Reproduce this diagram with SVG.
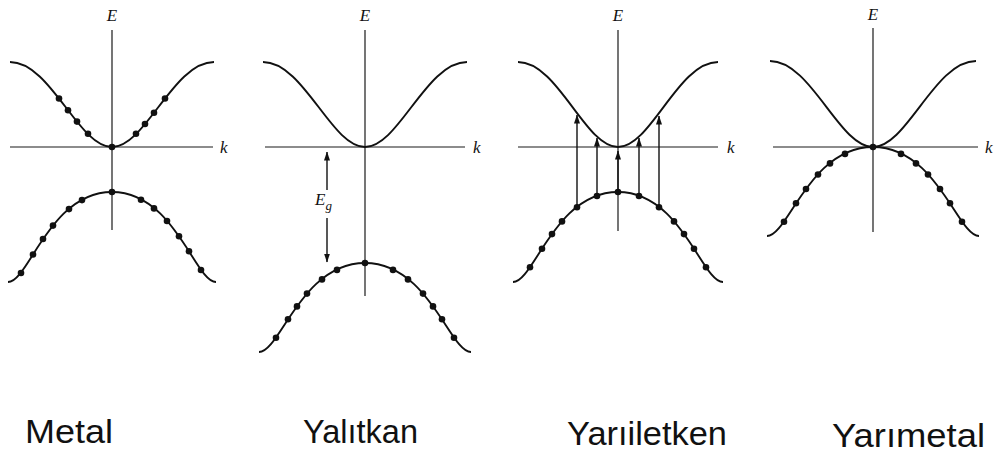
<svg xmlns="http://www.w3.org/2000/svg" width="994" height="461" viewBox="0 0 994 461">
  <defs>
    <style>
      .axis { stroke: #1a1a1a; stroke-width: 1.2; fill: none; }
      .band { stroke: #111; stroke-width: 1.9; fill: none; }
      .dot circle { fill: #111; r: 3.3px; }
      .arr { stroke: #111; stroke-width: 1.4; fill: none; }
      .lbl { font-family: "Liberation Serif", "DejaVu Serif", serif; font-style: italic; font-size: 17px; fill: #111; }
      .hand { font-family: "Liberation Sans", "DejaVu Sans", sans-serif; font-size: 34px; fill: #111; }
    </style>
    <marker id="ah" markerUnits="userSpaceOnUse" markerWidth="9" markerHeight="7" refX="8.5" refY="3.5" orient="auto-start-reverse">
      <path d="M0,0.5 L9,3.5 L0,6.5 z" fill="#111"/>
    </marker>
  </defs>
  <rect width="994" height="461" fill="#fff"/>

  <g id="metal">
    <line class="axis" x1="112" y1="30" x2="112" y2="230"/>
    <line class="axis" x1="10" y1="147" x2="213" y2="147"/>
    <text class="lbl" x="112" y="21" text-anchor="middle">E</text>
    <text class="lbl" x="220" y="153">k</text>
    <path class="band" d="M10,62 C50.8,62 78.3,147 112,147 C145.7,147 173.2,62 214,62"/>
    <path class="band" d="M8,282 C28.8,282 49.6,192 112,192 C174.4,192 195.2,282 216,282"/>
    <g class="dot">
      <circle cx="59" cy="98.5" r="3.3"/><circle cx="68" cy="110.2" r="3.3"/><circle cx="77" cy="121.6" r="3.3"/><circle cx="88" cy="133.8" r="3.3"/>
      <circle cx="112" cy="147" r="3.3"/>
      <circle cx="136" cy="133.8" r="3.3"/><circle cx="145" cy="124" r="3.3"/><circle cx="154" cy="112.7" r="3.3"/><circle cx="165" cy="98.5" r="3.3"/>
      <circle cx="112" cy="192" r="3.3"/>
      <circle cx="82" cy="200.1" r="3.3"/><circle cx="69" cy="209.1" r="3.3"/><circle cx="53" cy="225.6" r="3.3"/><circle cx="43" cy="239" r="3.3"/><circle cx="33" cy="254.5" r="3.3"/><circle cx="21" cy="273" r="3.3"/>
      <circle cx="141" cy="199.7" r="3.3"/><circle cx="154" cy="208.4" r="3.3"/><circle cx="167" cy="221" r="3.3"/><circle cx="179" cy="236.2" r="3.3"/><circle cx="189" cy="251.2" r="3.3"/><circle cx="201" cy="270" r="3.3"/>
    </g>
    <text class="hand" x="25" y="443" textLength="88" lengthAdjust="spacingAndGlyphs">Metal</text>
  </g>

  <g id="yalitkan">
    <line class="axis" x1="365" y1="30" x2="365" y2="296"/>
    <line class="axis" x1="265" y1="147" x2="465" y2="147"/>
    <text class="lbl" x="365" y="21" text-anchor="middle">E</text>
    <text class="lbl" x="473" y="153">k</text>
    <path class="band" d="M263,62 C303.8,62 331.3,147 365,147 C398.7,147 426.2,62 467,62"/>
    <path class="band" d="M259,352 C280.2,352 301.4,263 365,263 C428.6,263 449.8,352 471,352"/>
    <g class="dot">
      <circle cx="365" cy="263" r="3.3"/>
      <circle cx="337" cy="269.9" r="3.3"/><circle cx="322" cy="279.4" r="3.3"/><circle cx="307" cy="293.6" r="3.3"/><circle cx="297" cy="306.4" r="3.3"/><circle cx="288" cy="319.3" r="3.3"/><circle cx="276" cy="337.7" r="3.3"/>
      <circle cx="393" cy="269.9" r="3.3"/><circle cx="408" cy="279.4" r="3.3"/><circle cx="423" cy="293.6" r="3.3"/><circle cx="433" cy="306.4" r="3.3"/><circle cx="442" cy="319.3" r="3.3"/><circle cx="454" cy="337.7" r="3.3"/>
    </g>
    <text class="lbl" x="315" y="205" font-size="18">E<tspan font-size="13" dy="5">g</tspan></text>
    <text class="hand" x="303" y="443" textLength="115" lengthAdjust="spacingAndGlyphs">Yalıtkan</text>
  </g>

  <g id="yariiletken">
    <line class="axis" x1="618" y1="30" x2="618" y2="231"/>
    <line class="axis" x1="518" y1="147" x2="718" y2="147"/>
    <text class="lbl" x="618" y="21" text-anchor="middle">E</text>
    <text class="lbl" x="727" y="153">k</text>
    <path class="band" d="M518,62 C558,62 585,147 618,147 C651,147 678,62 718,62"/>
    <path class="band" d="M513,282 C534,282 555,192 618,192 C681,192 702,282 723,282"/>
    <g class="dot">
      <circle cx="618" cy="192" r="3.3"/>
      <circle cx="597" cy="196" r="3.3"/><circle cx="577" cy="207.3" r="3.3"/><circle cx="562" cy="221.4" r="3.3"/><circle cx="552" cy="234.1" r="3.3"/><circle cx="542" cy="248.7" r="3.3"/><circle cx="530" cy="267.2" r="3.3"/>
      <circle cx="639" cy="196" r="3.3"/><circle cx="659" cy="207.3" r="3.3"/><circle cx="674" cy="221.4" r="3.3"/><circle cx="684" cy="234.1" r="3.3"/><circle cx="694" cy="248.7" r="3.3"/><circle cx="706" cy="267.2" r="3.3"/>
    </g>
    <text class="hand" x="567" y="445" textLength="160" lengthAdjust="spacingAndGlyphs">Yarıiletken</text>
  </g>

  <g id="yarimetal">
    <line class="axis" x1="873" y1="28" x2="873" y2="232"/>
    <line class="axis" x1="773" y1="147" x2="978" y2="147"/>
    <text class="lbl" x="873" y="20" text-anchor="middle">E</text>
    <text class="lbl" x="985" y="153">k</text>
    <path class="band" d="M770,61 C811.2,61 839,147 873,147 C907,147 934.8,61 976,61"/>
    <path class="band" d="M767,236 C788.2,236 809.4,147 873,147 C936.6,147 957.8,236 979,236"/>
    <g class="dot">
      <circle cx="873" cy="147" r="3.3"/>
      <circle cx="845" cy="153.9" r="3.3"/><circle cx="830" cy="163.4" r="3.3"/><circle cx="818" cy="174.5" r="3.3"/><circle cx="806" cy="189" r="3.3"/><circle cx="796" cy="203.3" r="3.3"/><circle cx="784" cy="221.7" r="3.3"/>
      <circle cx="901" cy="153.9" r="3.3"/><circle cx="916" cy="163.4" r="3.3"/><circle cx="928" cy="174.5" r="3.3"/><circle cx="940" cy="189" r="3.3"/><circle cx="950" cy="203.3" r="3.3"/><circle cx="962" cy="221.7" r="3.3"/>
    </g>
    <text class="hand" x="832" y="447" textLength="153" lengthAdjust="spacingAndGlyphs">Yarımetal</text>
  </g>

  <g id="connectors">
    <line class="arr" x1="327" y1="190" x2="327" y2="152" marker-end="url(#ah)"/>
    <line class="arr" x1="327" y1="218" x2="327" y2="262" marker-end="url(#ah)"/>
    <line class="arr" x1="577" y1="207" x2="577" y2="115" marker-end="url(#ah)"/>
    <line class="arr" x1="597" y1="196" x2="597" y2="138" marker-end="url(#ah)"/>
    <line class="arr" x1="618" y1="192" x2="618" y2="151" marker-end="url(#ah)"/>
    <line class="arr" x1="639" y1="196" x2="639" y2="138" marker-end="url(#ah)"/>
    <line class="arr" x1="659" y1="207" x2="659" y2="116" marker-end="url(#ah)"/>
  </g>
</svg>
